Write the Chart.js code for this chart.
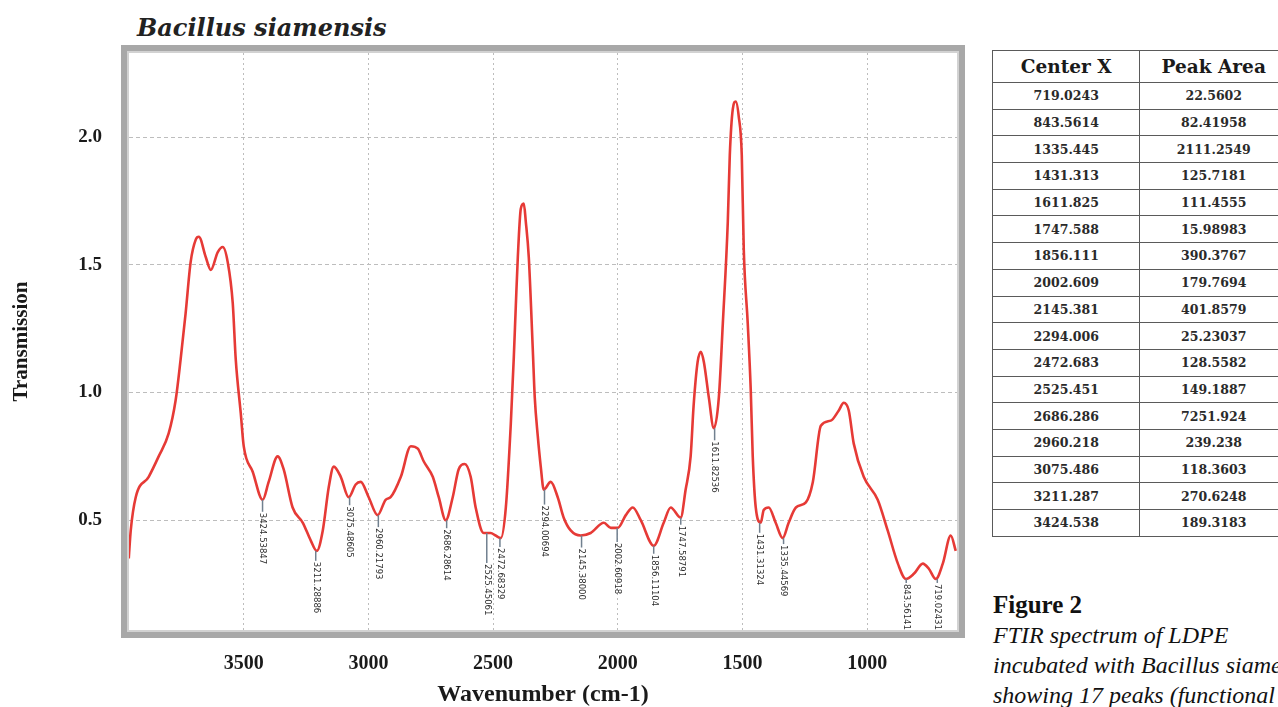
<!DOCTYPE html>
<html>
<head>
    <meta charset="utf-8">
    <title>FTIR spectrum - Bacillus siamensis</title>
    <script src="https://cdn.jsdelivr.net/npm/chart.js"></script>
    <style>
        body { margin: 0; background: #fff; width: 1278px; height: 707px; overflow: hidden; position: relative; }
        #plotTitle { position: absolute; left: 137px; top: 14px; font: italic bold 24px "DejaVu Serif", serif; line-height: 28px; color: #222; }
        #chartBox { position: absolute; left: 0; top: 0; width: 980px; height: 707px; }
        #peakTable { position: absolute; left: 992px; top: 50px; width: 296px; border-collapse: collapse; }
        #peakTable th, #peakTable td { border: 1.5px solid #5a5a5a; text-align: center; padding: 0; width: 148px; }
        #peakTable th { height: 31px; font: bold 18.5px "DejaVu Serif", serif; color: #1a1a1a; }
        #peakTable td { height: 25.7px; font: bold 12.5px "DejaVu Serif", serif; color: #2a2a2a; }
        #caption { position: absolute; left: 993px; top: 590px; white-space: nowrap; color: #111; }
        #caption .fig { font: bold 25px "Liberation Serif", serif; line-height: 30px; }
        #caption .txt { font: italic 24px "Liberation Serif", serif; line-height: 30px; }
    </style>
</head>
<body>
    <div id="plotTitle">Bacillus siamensis</div>
    <div id="chartBox"><canvas id="ftirChart" width="980" height="707"></canvas></div>
    <table id="peakTable">
        <thead><tr><th>Center X</th><th>Peak Area</th></tr></thead>
        <tbody id="peakRows"></tbody>
    </table>
    <div id="caption">
        <div class="fig">Figure 2</div>
        <div class="txt">FTIR spectrum of LDPE</div>
        <div class="txt">incubated with Bacillus siamensis</div>
        <div class="txt">showing 17 peaks (functional</div>
    </div>
    <script>
        // spectrum (wavenumber cm-1, transmission)
        const wavenumber = [3961, 3953, 3933, 3881, 3841, 3801, 3773, 3753, 3733, 3713, 3692, 3680, 3652, 3632, 3604, 3584,
            3564, 3544, 3532, 3512, 3500, 3464, 3424, 3400, 3364, 3340, 3304, 3263, 3231, 3207, 3183, 3159, 3139, 3111,
            3079, 3051, 3031, 2999, 2963, 2931, 2911, 2870, 2830, 2802, 2778, 2742, 2718, 2690, 2662, 2638, 2614, 2590,
            2570, 2538, 2510, 2490, 2469, 2449, 2429, 2417, 2409, 2401, 2389, 2377, 2369, 2357, 2341, 2333, 2321, 2309,
            2297, 2269, 2241, 2217, 2189, 2149, 2109, 2056, 2028, 2000, 1968, 1940, 1908, 1856, 1816, 1788, 1748, 1728,
            1708, 1696, 1680, 1667, 1655, 1635, 1615, 1595, 1579, 1559, 1551, 1539, 1527, 1515, 1503, 1495, 1479, 1467,
            1459, 1447, 1427, 1415, 1395, 1367, 1339, 1315, 1286, 1246, 1218, 1186, 1146, 1114, 1094, 1074, 1054, 1014,
            958, 918, 877, 845, 813, 777, 753, 725, 697, 665, 645];
        const transmission = [0.35, 0.46, 0.59, 0.67, 0.75, 0.84, 0.97, 1.13, 1.31, 1.51, 1.60, 1.61, 1.53, 1.48, 1.55, 1.57,
            1.51, 1.35, 1.13, 0.92, 0.79, 0.69, 0.58, 0.65, 0.75, 0.70, 0.55, 0.49, 0.42, 0.38, 0.46, 0.63, 0.71, 0.67,
            0.59, 0.64, 0.65, 0.59, 0.52, 0.58, 0.59, 0.67, 0.79, 0.78, 0.73, 0.67, 0.59, 0.50, 0.59, 0.70, 0.72, 0.67,
            0.55, 0.45, 0.45, 0.44, 0.43, 0.55, 0.88, 1.14, 1.34, 1.53, 1.72, 1.74, 1.67, 1.53, 1.17, 0.98, 0.83, 0.71,
            0.62, 0.65, 0.59, 0.51, 0.46, 0.44, 0.45, 0.49, 0.47, 0.47, 0.52, 0.55, 0.50, 0.40, 0.49, 0.55, 0.51, 0.62,
            0.75, 0.95, 1.12, 1.16, 1.12, 0.98, 0.86, 0.98, 1.27, 1.67, 1.93, 2.11, 2.14, 2.08, 1.93, 1.56, 1.27, 1.01,
            0.75, 0.55, 0.49, 0.54, 0.55, 0.49, 0.43, 0.49, 0.55, 0.57, 0.65, 0.87, 0.89, 0.93, 0.96, 0.93, 0.80, 0.67,
            0.58, 0.46, 0.33, 0.27, 0.29, 0.33, 0.31, 0.27, 0.33, 0.44, 0.38];

        // fitted peaks (table) and their marker labels on the plot
        const centerX = ['719.0243', '843.5614', '1335.445', '1431.313', '1611.825', '1747.588', '1856.111', '2002.609',
            '2145.381', '2294.006', '2472.683', '2525.451', '2686.286', '2960.218', '3075.486', '3211.287', '3424.538'];
        const peakArea = ['22.5602', '82.41958', '2111.2549', '125.7181', '111.4555', '15.98983', '390.3767', '179.7694',
            '401.8579', '25.23037', '128.5582', '149.1887', '7251.924', '239.238', '118.3603', '270.6248', '189.3183'];
        const peakLabels = ['719.02431', '843.56141', '1335.44569', '1431.31324', '1611.82536', '1747.58791', '1856.11104',
            '2002.60918', '2145.38000', '2294.00694', '2472.68329', '2525.45061', '2686.28614', '2960.21793', '3075.48605',
            '3211.28886', '3424.53847'];
        const peakY = [0.27, 0.27, 0.43, 0.49, 0.86, 0.51, 0.40, 0.47, 0.44, 0.62, 0.43, 0.45, 0.50, 0.52, 0.59, 0.38, 0.58];
        const peakLead = [4, 4, 6, 10, 12, 7, 8, 14, 12, 15, 9, 30, 8, 12, 8, 10, 12];

        const xTicks = [3500, 3000, 2500, 2000, 1500, 1000];
        const yTicks = [0.5, 1.0, 1.5, 2.0];

        const rows = document.getElementById('peakRows');
        centerX.forEach((c, i) => {
            const tr = document.createElement('tr');
            tr.innerHTML = '<td>' + c + '</td><td>' + peakArea[i] + '</td>';
            rows.appendChild(tr);
        });

        const spectrum = wavenumber.map((w, i) => ({ x: w, y: transmission[i] }));

        const framePlugin = {
            id: 'frame',
            afterDatasetsDraw(chart) {
                const { ctx, chartArea: a } = chart;
                ctx.save();
                ctx.strokeStyle = '#a8a8a8';
                ctx.lineWidth = 8;
                ctx.strokeRect(a.left - 4, a.top - 4, a.right - a.left + 8, a.bottom - a.top + 8);
                ctx.strokeStyle = '#d2d2d2';
                ctx.lineWidth = 2;
                ctx.strokeRect(a.left - 1, a.top - 1, a.right - a.left + 2, a.bottom - a.top + 2);
                ctx.restore();
            }
        };

        const peakPlugin = {
            id: 'peakMarks',
            afterDatasetsDraw(chart) {
                const { ctx, scales: { x, y } } = chart;
                ctx.save();
                peakLabels.forEach((lab, i) => {
                    const px = x.getPixelForValue(parseFloat(centerX[i]));
                    const py = y.getPixelForValue(peakY[i]);
                    ctx.strokeStyle = '#71808f';
                    ctx.lineWidth = 1.5;
                    ctx.beginPath();
                    ctx.moveTo(px, py);
                    ctx.lineTo(px, py + peakLead[i]);
                    ctx.stroke();
                    ctx.translate(px, py + peakLead[i] + 1);
                    ctx.rotate(Math.PI / 2);
                    ctx.fillStyle = '#2d2d2d';
                    ctx.font = '8.5px "DejaVu Sans", sans-serif';
                    ctx.textAlign = 'left';
                    ctx.textBaseline = 'middle';
                    ctx.fillText(lab, 0, 0);
                    ctx.setTransform(1, 0, 0, 1, 0, 0);
                });
                ctx.restore();
            }
        };

        new Chart(document.getElementById('ftirChart'), {
            type: 'line',
            data: {
                datasets: [{
                    label: 'Bacillus siamensis',
                    data: spectrum,
                    borderColor: '#e63a36',
                    borderWidth: 2.6,
                    pointRadius: 0,
                    fill: false,
                    cubicInterpolationMode: 'monotone'
                }]
            },
            options: {
                responsive: false,
                animation: false,
                devicePixelRatio: 1,
                layout: { padding: { left: 0, right: 23, top: 53, bottom: 0 } },
                plugins: { legend: { display: false }, tooltip: { enabled: false } },
                scales: {
                    x: {
                        type: 'linear',
                        reverse: true,
                        min: 640,
                        max: 3960,
                        afterBuildTicks: s => { s.ticks = xTicks.map(v => ({ value: v })); },
                        afterFit: s => { s.height = 77; },
                        grid: { color: '#bdbdbd', lineWidth: 1, drawTicks: false },
                        border: { display: false, dash: [2, 3] },
                        ticks: {
                            padding: 22,
                            color: '#1a1a1a',
                            callback: v => String(v),
                            font: { family: 'Liberation Serif', weight: 'bold', size: 20 }
                        },
                        title: {
                            display: true,
                            text: 'Wavenumber (cm-1)',
                            color: '#1a1a1a',
                            padding: { top: 0, bottom: 0 },
                            font: { family: 'Liberation Serif', weight: 'bold', size: 24, lineHeight: 1 }
                        }
                    },
                    y: {
                        min: 0.07,
                        max: 2.33,
                        afterBuildTicks: s => { s.ticks = yTicks.map(v => ({ value: v })); },
                        afterFit: s => { s.width = 129; },
                        grid: { color: '#bdbdbd', lineWidth: 1, drawTicks: false },
                        border: { display: false, dash: [4, 3] },
                        ticks: {
                            padding: 27,
                            color: '#1a1a1a',
                            callback: v => v.toFixed(1),
                            font: { family: 'Liberation Serif', weight: 'bold', size: 19 }
                        },
                        title: {
                            display: true,
                            text: 'Transmission',
                            color: '#1a1a1a',
                            padding: { top: 11, bottom: 0 },
                            font: { family: 'Liberation Serif', weight: 'bold', size: 21, lineHeight: 1 }
                        }
                    }
                }
            },
            plugins: [framePlugin, peakPlugin]
        });
    </script>
</body>
</html>
